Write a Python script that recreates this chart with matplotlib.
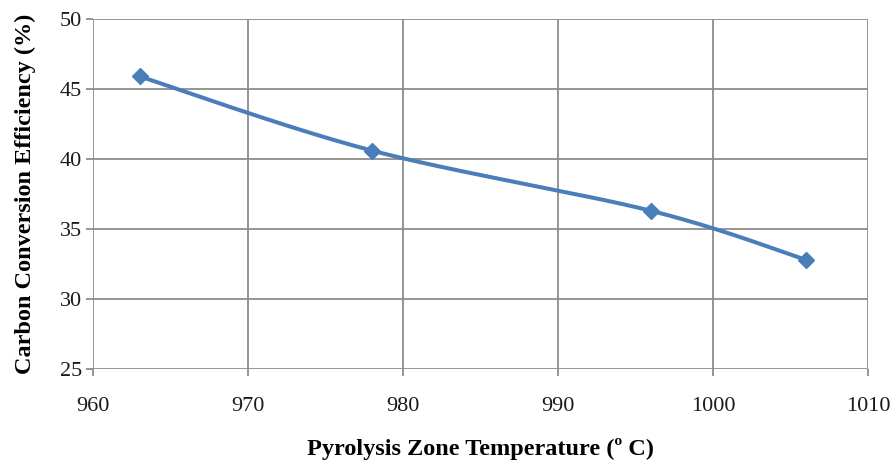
import numpy as np
import matplotlib
matplotlib.use("Agg")
import matplotlib.pyplot as plt

plt.rcParams['font.family'] = ['Liberation Serif', 'DejaVu Serif']

# ===================== 数据 =====================
temperature = [963, 978, 996, 1006]
efficiency = [45.9, 40.6, 36.3, 32.8]
x_ticks = [960, 970, 980, 990, 1000, 1010]
y_ticks = [25, 30, 35, 40, 45, 50]

LINE_COLOR = "#4a7ebb"
GRID_COLOR = "#8c8c8c"


def excel_smooth(xs, ys, n=60):
    # Excel-style smoothed line: cubic Bezier segments, tension 1/6
    xs = np.asarray(xs, float)
    ys = np.asarray(ys, float)
    px, py = [], []
    for i in range(len(xs) - 1):
        x0, y0 = (xs[i - 1], ys[i - 1]) if i > 0 else (xs[i], ys[i])
        x3, y3 = (xs[i + 2], ys[i + 2]) if i + 2 < len(xs) else (xs[i + 1], ys[i + 1])
        c1x = xs[i] + (xs[i + 1] - x0) / 6
        c1y = ys[i] + (ys[i + 1] - y0) / 6
        c2x = xs[i + 1] - (x3 - xs[i]) / 6
        c2y = ys[i + 1] - (y3 - ys[i]) / 6
        t = np.linspace(0, 1, n)
        bx = (1 - t) ** 3 * xs[i] + 3 * (1 - t) ** 2 * t * c1x + 3 * (1 - t) * t ** 2 * c2x + t ** 3 * xs[i + 1]
        by = (1 - t) ** 3 * ys[i] + 3 * (1 - t) ** 2 * t * c1y + 3 * (1 - t) * t ** 2 * c2y + t ** 3 * ys[i + 1]
        px.extend(bx)
        py.extend(by)
    return px, py


fig = plt.figure(figsize=(8.96, 4.63), dpi=100)
ax = fig.add_axes([0.1038, 0.203, 0.865, 0.756])

sx, sy = excel_smooth(temperature, efficiency)
ax.plot(sx, sy, color=LINE_COLOR, lw=2.9, solid_capstyle="round", zorder=3)
ax.plot(temperature, efficiency, linestyle="none", marker="D", ms=8,
        color=LINE_COLOR, zorder=4)

ax.set_xlim(960, 1010)
ax.set_ylim(25, 50)
ax.set_xticks(x_ticks)
ax.set_yticks(y_ticks)
ax.grid(True, color=GRID_COLOR, lw=1.3)
ax.set_axisbelow(True)
for s in ax.spines.values():
    s.set_visible(False)
ax.tick_params(axis="both", direction="out", length=5, width=1.3,
               color=GRID_COLOR, labelsize=16, labelcolor="#1a1a1a")
ax.tick_params(axis="x", pad=15)
ax.tick_params(axis="y", pad=3)

ax.set_xlabel("Pyrolysis Zone Temperature (º C)", fontsize=17.5,
              fontweight="bold", labelpad=16)
ax.set_ylabel("Carbon Conversion Efficiency (%)", fontsize=17.5,
              fontweight="bold", labelpad=17)

fig.savefig("out.png", dpi=100)
plt.close()
